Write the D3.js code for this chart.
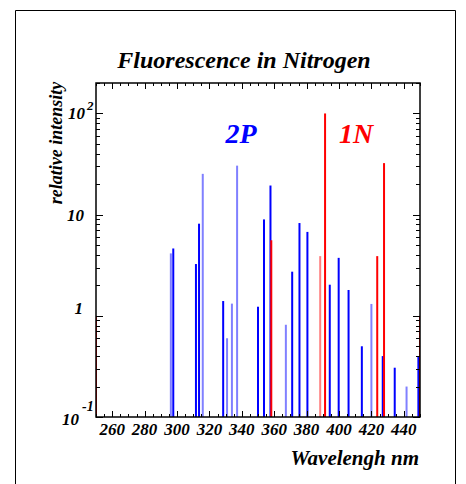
<!DOCTYPE html>
<html><head><meta charset="utf-8">
<script src="https://cdn.jsdelivr.net/npm/d3@7"></script>
<style>
html,body{margin:0;padding:0;background:#fff;}
svg{display:block;}
text{font-family:"Liberation Serif","DejaVu Serif",serif;font-weight:bold;font-style:italic;}
</style></head>
<body>
<svg id="chart" width="466" height="484"></svg>
<script>
// ---- data ----
const title = "Fluorescence in Nitrogen";
const xLabel = "Wavelengh nm";
const yLabel = "relative intensity";
const xTicks = [260, 280, 300, 320, 340, 360, 380, 400, 420, 440];
const yDecades = [0.1, 1, 10, 100];

// 2P system, strong lines (dark blue)
const p2StrongWl  = [297.7, 311.7, 313.6, 328.5, 350.0, 353.7, 357.7, 371.1, 375.6, 380.5, 394.3, 399.8, 405.9, 414.1, 427.0, 434.4, 449.0];
const p2StrongVal = [4.63, 3.25, 8.14, 1.40, 1.23, 8.97, 19.4, 2.73, 8.26, 6.75, 2.03, 3.74, 1.80, 0.50, 0.40, 0.307, 0.40];
// 2P system, weaker lines (light blue)
const p2WeakWl  = [296.2, 315.9, 330.9, 333.9, 337.1, 367.2, 420.0, 441.7];
const p2WeakVal = [4.14, 25.3, 0.60, 1.32, 30.5, 0.816, 1.31, 0.20];
// 1N system (red)
const n1Wl  = [250.0, 358.2, 391.4, 423.6, 427.8, 450.0];
const n1Val = [1.0, 5.58, 100, 3.89, 32.3, 1.0];
// 1N weak (light red)
const n1WeakWl  = [388.4];
const n1WeakVal = [3.89];

// ---- layout ----
const svg = d3.select("#chart");
const L = 96, R = 420, T = 83, B = 417;

const x = d3.scaleLinear().domain([250, 450]).range([L, R]);
const y = d3.scaleLog().domain([0.1, 200]).range([B, T]);

// outer border
svg.append("path").attr("d", "M15.5,484 V10.5 H455.5 V484")
  .attr("fill", "none").attr("stroke", "#000").attr("stroke-width", 1);

// title
svg.append("text").attr("x", 244).attr("y", 68).attr("text-anchor", "middle")
  .attr("font-size", 24).text(title);

const plot = svg.append("g");
plot.append("defs").append("clipPath").attr("id", "clip")
  .append("rect").attr("x", L).attr("y", T).attr("width", R - L).attr("height", B - T);

const bars = plot.append("g").attr("clip-path", "url(#clip)");
function drawBars(wl, val, color, w) {
  bars.selectAll(null).data(wl.map((d, i) => [d, val[i]])).enter().append("rect")
    .attr("x", d => x(d[0]) - w / 2)
    .attr("width", w)
    .attr("y", d => y(d[1]))
    .attr("height", d => y(0.1) - y(d[1]))
    .attr("fill", color);
}
drawBars(p2WeakWl, p2WeakVal, "#8080ff", 2);
drawBars(p2StrongWl, p2StrongVal, "#0000ff", 2);
drawBars(n1WeakWl, n1WeakVal, "#ff8080", 2);
drawBars(n1Wl, n1Val, "#ff0000", 2);

// axes with inward ticks
const xMinor = d3.range(250, 451, 5);
const yMinor = [];
[0.1, 1, 10, 100].forEach(d => { for (let k = 1; k <= 9; k++) { const v = d * k; if (v <= 200) yMinor.push(v); } });

const ax = svg.append("g").attr("stroke", "#000").attr("stroke-width", 1);
xMinor.forEach(v => {
  const major = v % 20 === 0;
  const len = major ? 6 : 3;
  const px = Math.round(x(v)) + 0.5;
  ax.append("line").attr("x1", px).attr("x2", px).attr("y1", B).attr("y2", B - len);
  ax.append("line").attr("x1", px).attr("x2", px).attr("y1", T).attr("y2", T + len);
});
yMinor.forEach(v => {
  const major = yDecades.includes(v);
  const len = major ? 7 : 4;
  const py = Math.round(y(v)) + 0.5;
  ax.append("line").attr("x1", L).attr("x2", L + len).attr("y1", py).attr("y2", py);
  ax.append("line").attr("x1", R).attr("x2", R - len).attr("y1", py).attr("y2", py);
});
// frame
svg.append("rect").attr("x", L).attr("y", T).attr("width", R - L).attr("height", B - T)
  .attr("fill", "none").attr("stroke", "#000").attr("stroke-width", 1.5);

// x tick labels
svg.append("g").selectAll("text").data(xTicks).enter().append("text")
  .attr("x", d => x(d)).attr("y", 435).attr("text-anchor", "middle")
  .attr("font-size", 17).text(d => d);

// y tick labels (ROOT-like)
const yl = svg.append("g").attr("font-size", 17);
// 10^2
yl.append("text").attr("x", 85).attr("y", y(100) + 6).attr("text-anchor", "end").text("10");
yl.append("text").attr("x", 87).attr("y", y(100) - 3).attr("font-size", 13).text("2");
// 10
yl.append("text").attr("x", 84).attr("y", y(10) + 6).attr("text-anchor", "end").text("10");
// 1
yl.append("text").attr("x", 83).attr("y", y(1) - 2).attr("text-anchor", "end").text("1");
// 10^-1
yl.append("text").attr("x", 79).attr("y", 425).attr("text-anchor", "end").text("10");
yl.append("text").attr("x", 82).attr("y", 411).attr("font-size", 14).text("-1");

// axis titles
svg.append("text").attr("x", 419).attr("y", 465).attr("text-anchor", "end")
  .attr("font-size", 21).text(xLabel);
svg.append("text").attr("transform", "translate(62,143) rotate(-90)").attr("text-anchor", "middle")
  .attr("font-size", 18).text(yLabel);

// system labels
svg.append("text").attr("x", 241).attr("y", 143).attr("text-anchor", "middle")
  .attr("font-size", 28).attr("fill", "#0000ff").text("2P");
svg.append("text").attr("x", 356).attr("y", 143).attr("text-anchor", "middle")
  .attr("font-size", 28).attr("fill", "#ff0000").text("1N");
</script>
</body></html>
